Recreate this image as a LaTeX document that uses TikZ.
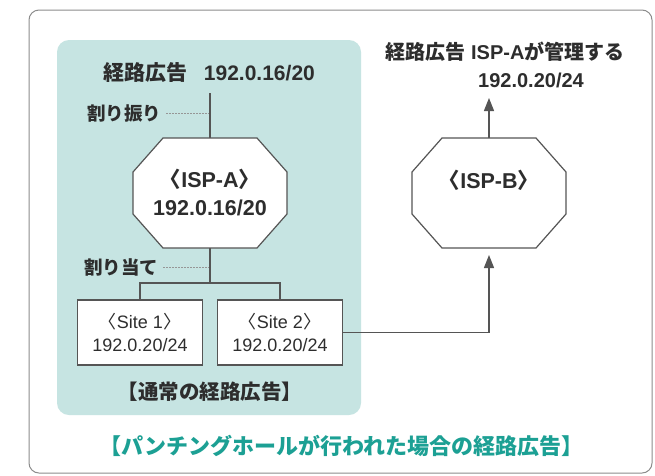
\documentclass[tikz,border=0pt]{standalone}
\usepackage{fontspec}
\setmainfont{Liberation Sans}
\newfontfamily\jp{Noto Sans CJK JP}
\usetikzlibrary{arrows.meta,calc}
\definecolor{panel}{RGB}{198,228,226}
\definecolor{tealtxt}{RGB}{28,160,148}
\definecolor{linec}{RGB}{85,85,85}
\definecolor{framec}{RGB}{140,140,140}
\definecolor{txt}{RGB}{45,45,45}
\definecolor{dotc}{RGB}{150,150,150}
\newcommand{\octoshape}[1]{\draw[conn, fill=white] ([xshift=30pt]#1.north west) -- ([xshift=-30pt]#1.north east) -- ([yshift=-34pt]#1.north east) -- ([yshift=34pt]#1.south east) -- ([xshift=-30pt]#1.south east) -- ([xshift=30pt]#1.south west) -- ([yshift=34pt]#1.south west) -- ([yshift=-34pt]#1.north west) -- cycle;}
\newcommand{\lbr}{\kern-0.4em{\jp 〈}}
\newcommand{\rbr}{{\jp 〉}\kern-0.4em}
\begin{document}
\begin{tikzpicture}[x=1pt,y=-1pt,
  conn/.style={draw=linec, line width=1.2pt},
  dotline/.style={draw=dotc, line width=0.8pt, dash pattern=on 1.5pt off 1.5pt},
  lbl/.style={inner sep=0pt, text=txt, font=\fontsize{19}{22}\selectfont\bfseries},
  octobox/.style={rectangle, inner sep=0pt, outer sep=0pt, minimum width=154pt, minimum height=110pt},
  sitebox/.style={draw=linec, line width=1.2pt, fill=white, rectangle, inner sep=0pt, minimum width=125pt, minimum height=65pt, align=center, text=txt, font=\fontsize{18}{23}\selectfont},
  inner/.style={inner sep=0pt, text=txt, align=center, font=\fontsize{21.5}{28}\selectfont\bfseries},
  arr/.style={-{Triangle[width=10pt,length=13pt]}}
]
\useasboundingbox (0,0) rectangle (655,475);
\fill[white] (0,0) rectangle (655,475);
\draw[framec, line width=1pt, rounded corners=10pt] (29,10) rectangle (652,473);
\fill[panel, rounded corners=12pt] (57,40) rectangle (361,415);

% left labels
\node[lbl, font=\fontsize{21}{22}\selectfont\bfseries] (advA) at (209,73) {{\jp 経路広告}\hspace{0.8em}192.0.16/20};
\coordinate (topA) at (210,93);
\node[lbl, font=\fontsize{18.5}{22}\selectfont\bfseries\jp] (wafuri) at (124,113) {割り振り};
\coordinate (d1) at (209,113);
\node[lbl, font=\fontsize{18.5}{22}\selectfont\bfseries\jp] (wate) at (121,267) {割り当て};
\coordinate (d2) at (209,267);

% ISP-A
\node[octobox] (ispa) at (210,193) {};
\draw[conn] (topA) -- (ispa.north);
\octoshape{ispa}
\node[inner] (ispatext) at (ispa.center) {\lbr ISP-A\rbr\\192.0.16/20};

% tree
\coordinate (br) at (210,283);
\node[sitebox] (site1) at (140,332.5) {\lbr Site 1\rbr\\192.0.20/24};
\node[sitebox] (site2) at (280,332.5) {\lbr Site 2\rbr\\192.0.20/24};
\draw[conn] (ispa.south) -- (br);
\draw[conn] (site1.north) |- (br) -| (site2.north);
\draw[dotline] ([xshift=5pt]wafuri.east) -- (d1);
\draw[dotline] ([xshift=5pt]wate.east) -- (d2);

\node[lbl, font=\fontsize{20.5}{22}\selectfont\bfseries\jp] (normal) at (210,392) {【通常の経路広告】};

% ISP-B
\node[octobox] (ispb) at (489,193) {};
\octoshape{ispb}
\node[inner] (ispbtext) at (489,180) {\lbr ISP-B\rbr};
\node[lbl, font=\fontsize{20}{22}\selectfont\bfseries] (advB1) at (505,52) {{\jp 経路広告} ISP-A{\jp が管理する}};
\node[lbl, font=\fontsize{20}{22}\selectfont\bfseries] (advB2) at (531,80) {192.0.20/24};
\coordinate (tipB) at (489,98);
\draw[conn, arr] (ispb.north) -- (tipB);
\draw[conn, arr] (site2.east) -| ([yshift=-7pt]ispb.south);

\node[inner sep=0pt, text=tealtxt, font=\fontsize{22}{24}\selectfont\bfseries\jp] (caption) at (341,446) {【パンチングホールが行われた場合の経路広告】};
\end{tikzpicture}
\end{document}
